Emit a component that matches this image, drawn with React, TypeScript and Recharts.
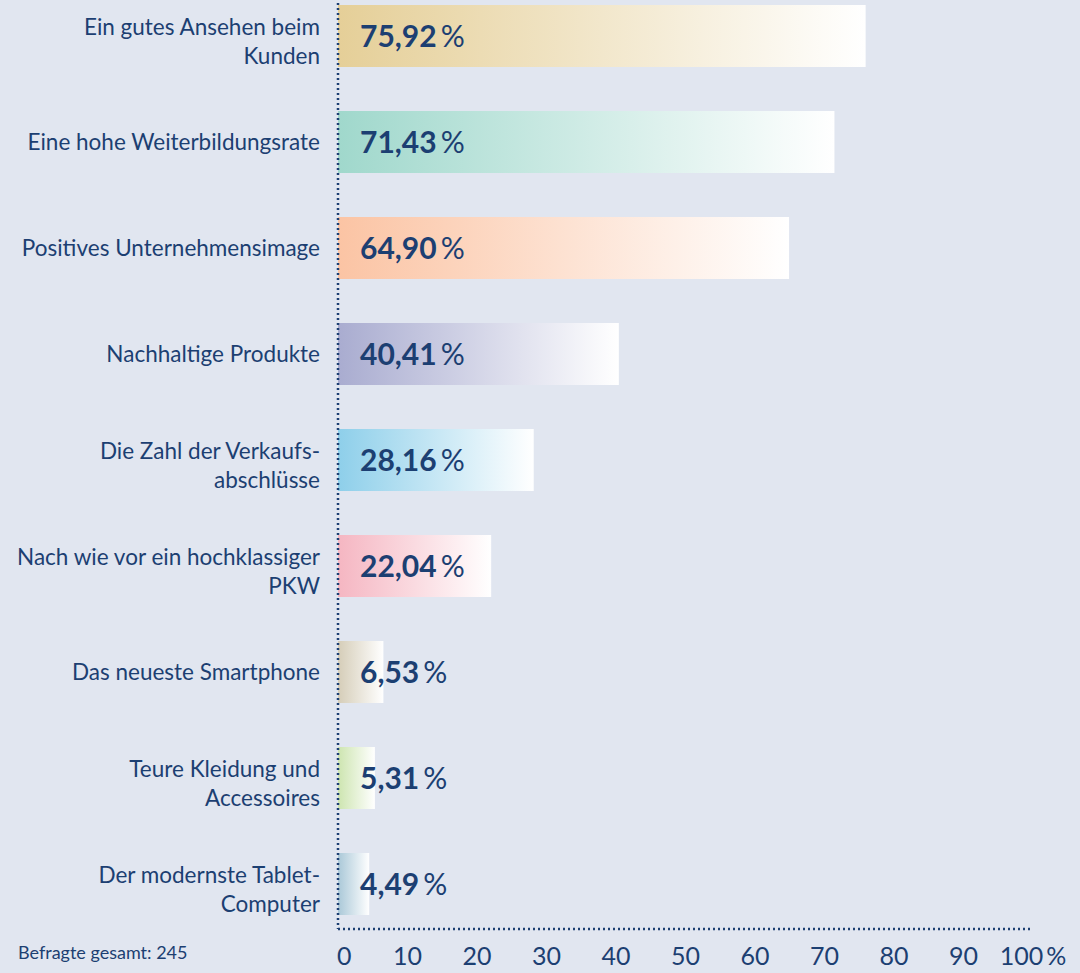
import React from 'react';
import { BarChart, Bar, XAxis, YAxis, Cell, LabelList } from 'recharts';

// Werte
const categories = [
  'Ein gutes Ansehen beim\nKunden',
  'Eine hohe Weiterbildungsrate',
  'Positives Unternehmensimage',
  'Nachhaltige Produkte',
  'Die Zahl der Verkaufs-\nabschlüsse',
  'Nach wie vor ein hochklassiger\nPKW',
  'Das neueste Smartphone',
  'Teure Kleidung und\nAccessoires',
  'Der modernste Tablet-\nComputer',
];
const values = [75.92, 71.43, 64.9, 40.41, 28.16, 22.04, 6.53, 5.31, 4.49];
const barColors = [
  '#e5cf98', '#a0d8cc', '#fbc4a4', '#a9acd0', '#8ecfea',
  '#f5b6c2', '#d5cdb8', '#cde5b0', '#aac8d8',
];
const xTicks = [0, 10, 20, 30, 40, 50, 60, 70, 80, 90, 100];

const NAVY = '#1c3f72';
const BG = '#e1e6f0';
const FONT = 'Lato, "Open Sans", sans-serif';

const data = categories.map((name, i) => ({ name, value: values[i] }));

if (typeof document !== 'undefined') {
  document.body.style.margin = '0';
  document.body.style.background = BG;
}

const YTick = (props: any) => {
  const { x, y, payload } = props;
  const lines = String(payload.value).split('\n');
  const lh = 29;
  const start = y - ((lines.length - 1) * lh) / 2 + (lines.length > 1 ? 6 : 0);
  return (
    <text x={x - 10} textAnchor="end" fill={NAVY} fontSize={22.5} fontFamily={FONT}>
      {lines.map((l, i) => (
        <tspan key={i} x={x - 10} y={start + i * lh} dy="0.35em">
          {l}
        </tspan>
      ))}
    </text>
  );
};

const XTick = (props: any) => {
  const { x, y, payload } = props;
  const v = payload.value;
  return (
    <text
      x={v === 0 ? x - 1 : x}
      y={y + 28}
      textAnchor={v === 0 ? 'start' : 'middle'}
      fill={NAVY}
      fontSize={25}
      fontFamily={FONT}
    >
      {v}
      {v === 100 ? <tspan dx={3}>%</tspan> : null}
    </text>
  );
};

const ValueLabel = (props: any) => {
  const { x, y, height, value } = props;
  const txt = Number(value).toFixed(2).replace('.', ',');
  return (
    <text
      x={x + 22}
      y={y + height / 2}
      dy="0.36em"
      fill={NAVY}
      fontSize={30}
      fontFamily={FONT}
    >
      <tspan fontWeight={700}>{txt}</tspan>
      <tspan dx={4} fontWeight={400}>%</tspan>
    </text>
  );
};

export default function App() {
  return (
    <div style={{ position: 'relative', width: 1080, height: 973, background: BG }}>
      <BarChart
        width={1080}
        height={973}
        data={data}
        layout="vertical"
        margin={{ top: -17, right: 47, bottom: 0, left: 0 }}
        barSize={62}
      >
        <defs>
          {barColors.map((c, i) => (
            <linearGradient key={i} id={`grad${i}`} x1="0" y1="0" x2="1" y2="0">
              <stop offset="0%" stopColor={c} />
              <stop offset="100%" stopColor="#ffffff" />
            </linearGradient>
          ))}
        </defs>
        <XAxis
          type="number"
          domain={[0, 100]}
          ticks={xTicks}
          interval={0}
          tickLine={false}
          axisLine={{ stroke: NAVY, strokeWidth: 2.5, strokeDasharray: '2 3' }}
          tick={<XTick />}
          height={44}
        />
        <YAxis
          type="category"
          dataKey="name"
          width={338}
          tickLine={false}
          axisLine={{ stroke: NAVY, strokeWidth: 2.5, strokeDasharray: '2 3' }}
          tick={<YTick />}
          interval={0}
          padding={{ top: 0, bottom: -8 }}
        />
        <Bar dataKey="value" isAnimationActive={false}>
          {data.map((_, i) => (
            <Cell key={i} fill={`url(#grad${i})`} />
          ))}
          <LabelList dataKey="value" content={<ValueLabel />} />
        </Bar>
      </BarChart>
      <div
        style={{
          position: 'absolute',
          left: 18,
          top: 941,
          fontSize: 18,
          fontFamily: FONT,
          color: NAVY,
        }}
      >
        Befragte gesamt: 245
      </div>
    </div>
  );
}
